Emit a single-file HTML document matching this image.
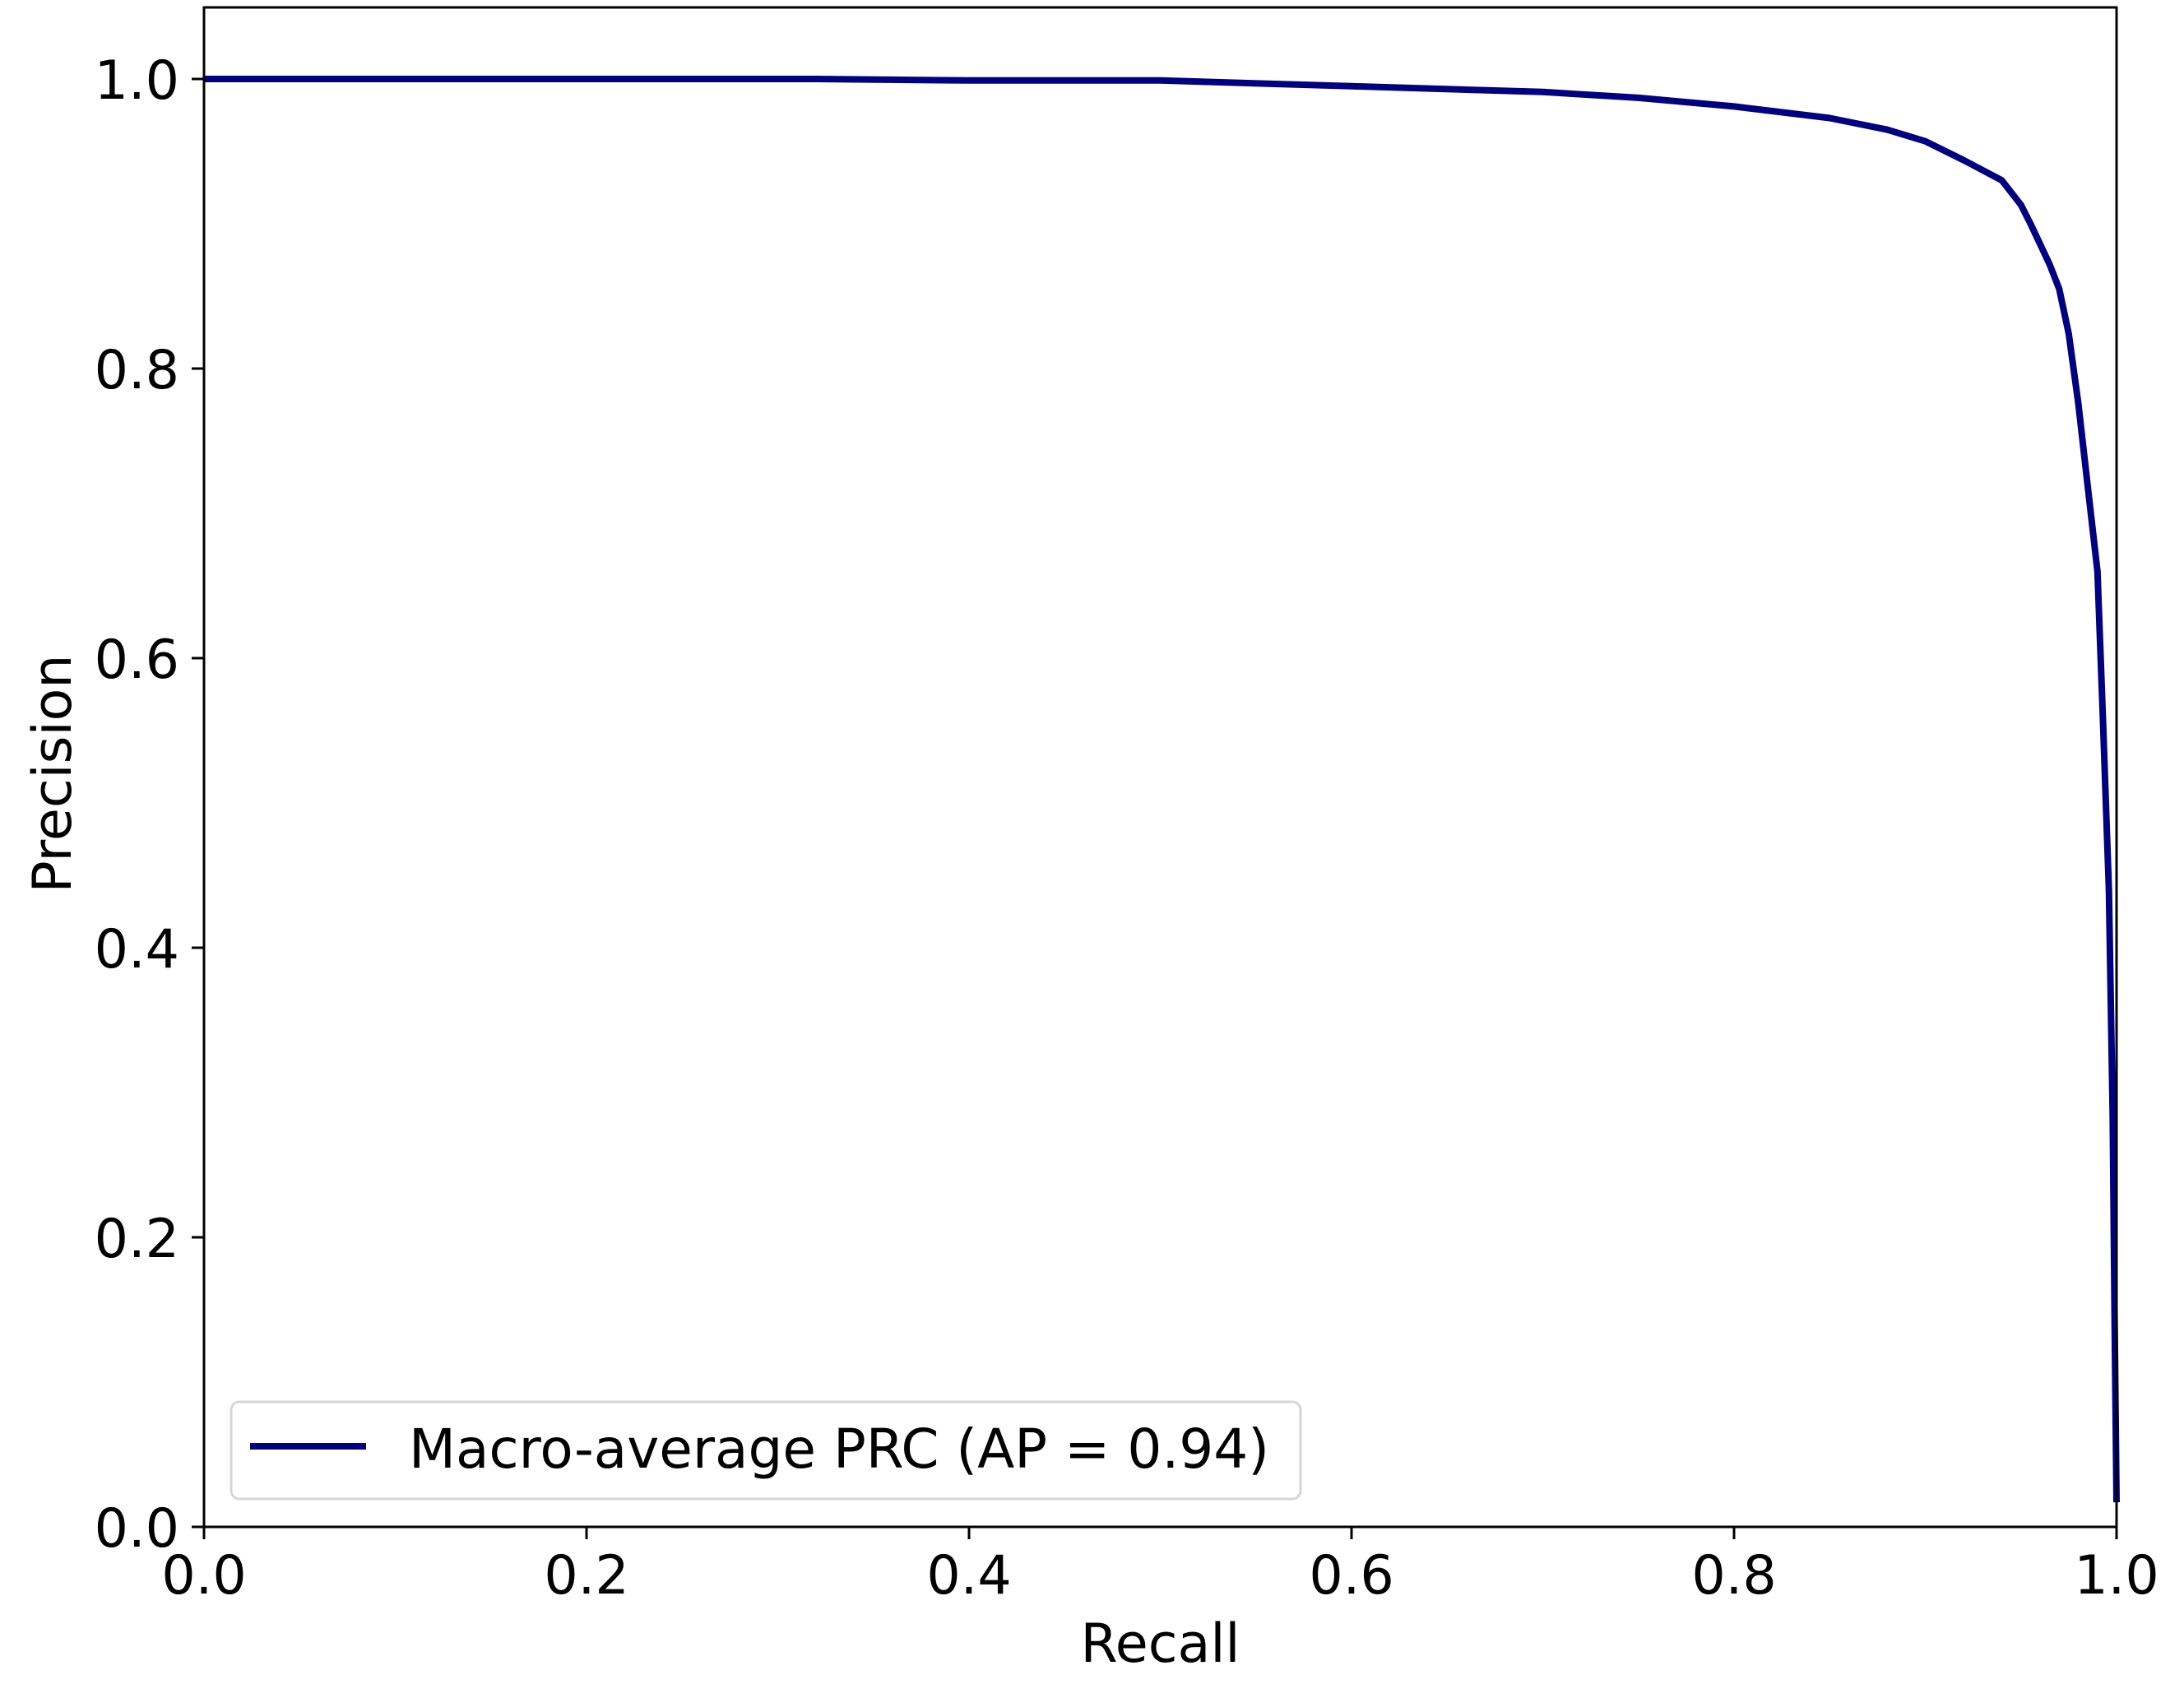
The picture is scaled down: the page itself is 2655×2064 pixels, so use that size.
<!DOCTYPE html>
<html>
<head>
<meta charset="utf-8">
<style>
  html, body { margin:0; padding:0; background:#fff; }
  svg { display:block; }
  text { font-family: "DejaVu Sans", "Liberation Sans", sans-serif; fill:#000; }
</style>
</head>
<body>
<svg id="chart" width="2655" height="2064" viewBox="0 0 2655 2064" xmlns="http://www.w3.org/2000/svg">
  <rect x="0" y="0" width="2655" height="2064" fill="#fff"/>
  <g id="plot"></g>
  <g id="axes"></g>
  <g id="legend"></g>
</svg>
<script>
const recallValues = [0, 0.1, 0.2, 0.32, 0.4, 0.5, 0.6, 0.7, 0.75, 0.8, 0.85, 0.88, 0.9, 0.92, 0.94, 0.95, 0.955, 0.96, 0.965, 0.97, 0.975, 0.98, 0.985, 0.99, 0.993, 0.996, 0.998, 0.999, 1.0];
const precisionValues = [1.0, 1.0, 1.0, 1.0, 0.999, 0.999, 0.995, 0.991, 0.987, 0.981, 0.973, 0.965, 0.957, 0.944, 0.930, 0.913, 0.90, 0.886, 0.872, 0.855, 0.824, 0.776, 0.718, 0.66, 0.554, 0.44, 0.285, 0.14, 0.017];
const xTickLabels = ["0.0", "0.2", "0.4", "0.6", "0.8", "1.0"];
const yTickLabels = ["0.0", "0.2", "0.4", "0.6", "0.8", "1.0"];
const seriesLabel = "Macro-average PRC (AP = 0.94)";

const NS = "http://www.w3.org/2000/svg";
const L = 248, R = 2573, B = 1856, T = 9;
const Y1 = 96;
function xScale(v) { return L + v * (R - L); }
function yScale(v) { return B - v * (B - Y1); }
function mk(tag, attrs, parent) {
  const e = document.createElementNS(NS, tag);
  for (const k in attrs) e.setAttribute(k, attrs[k]);
  parent.appendChild(e);
  return e;
}
const plot = document.getElementById('plot');
const axes = document.getElementById('axes');
const legend = document.getElementById('legend');

let d = "";
recallValues.forEach((r, i) => {
  d += (i ? "L" : "M") + xScale(r).toFixed(1) + " " + yScale(precisionValues[i]).toFixed(1) + " ";
});
const curve = mk('path', {d: d, fill: 'none', stroke: '#000080', 'stroke-width': 8, 'stroke-linejoin': 'round'}, plot);



const frame = mk('rect', {x: L, y: T, width: R - L, height: B - T, fill: 'none', stroke: '#000', 'stroke-width': 3}, axes);



xTickLabels.forEach((lab) => {
  const v = parseFloat(lab);
  const x = xScale(v);
  const t = mk('line', {x1: x, y1: B, x2: x, y2: B + 15, stroke: '#000', 'stroke-width': 3}, axes);
  
  
  const tx = mk('text', {x: x, y: 1937, 'font-size': 65, 'text-anchor': 'middle'}, axes);
  tx.textContent = lab;
  
  
});
yTickLabels.forEach((lab) => {
  const v = parseFloat(lab);
  const y = yScale(v);
  const t = mk('line', {x1: L - 15, y1: y, x2: L, y2: y, stroke: '#000', 'stroke-width': 3}, axes);
  
  
  const tx = mk('text', {x: L - 30, y: y + 24, 'font-size': 65, 'text-anchor': 'end'}, axes);
  tx.textContent = lab;
  
  
});
const xt = mk('text', {x: (L + R) / 2, y: 2020, 'font-size': 65, 'text-anchor': 'middle'}, axes);
xt.textContent = "Recall";


const yt = mk('text', {x: 0, y: 0, 'font-size': 65, 'text-anchor': 'middle', transform: 'translate(86,' + ((T + B) / 2 + 8) + ') rotate(-90)'}, axes);
yt.textContent = "Precision";



const lb = mk('rect', {x: 281, y: 1704, width: 1300, height: 118, rx: 10, fill: '#fff', 'fill-opacity': 0.8, stroke: '#d6d6d6', 'stroke-width': 3}, legend);


const ll = mk('line', {x1: 304, y1: 1758, x2: 445, y2: 1758, stroke: '#000080', 'stroke-width': 8}, legend);


const lt = mk('text', {x: 497, y: 1784, 'font-size': 66}, legend);
lt.textContent = seriesLabel;


</script>
</body>
</html>
